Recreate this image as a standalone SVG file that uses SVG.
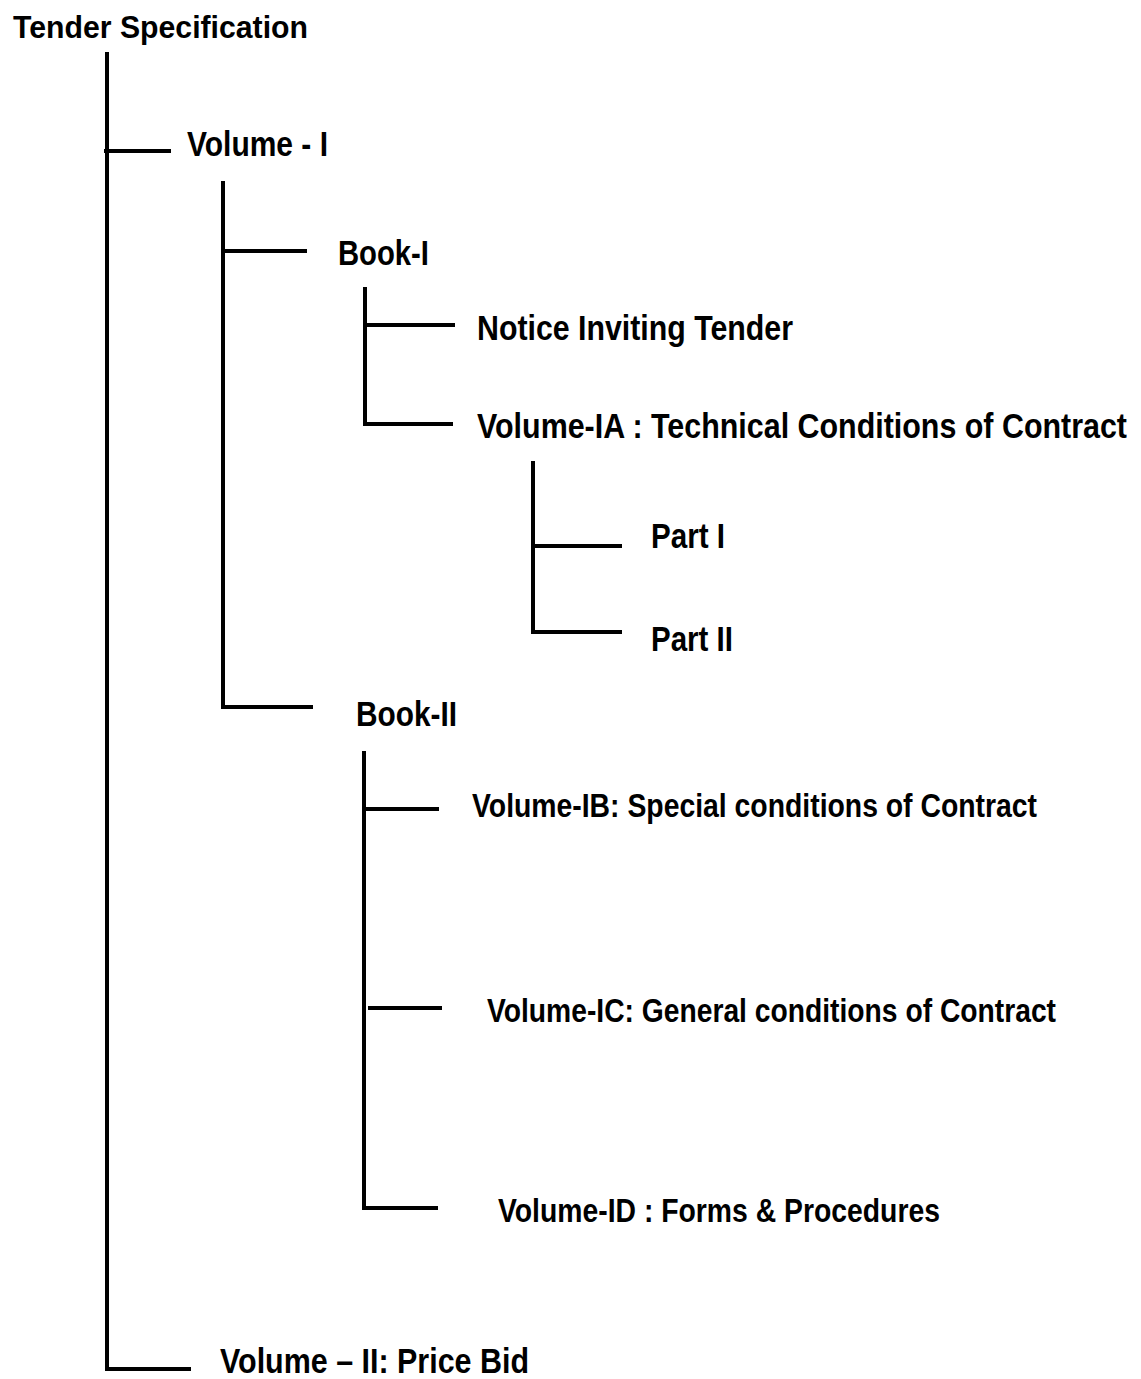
<svg xmlns="http://www.w3.org/2000/svg" width="1141" height="1379" viewBox="0 0 1141 1379">
<style>
.t{font-family:"Liberation Sans",Arial,sans-serif;font-weight:bold;fill:#000;font-size:35px}
.s{font-size:33px}
.c line{stroke:#000;stroke-width:4;stroke-linecap:butt}
</style>
<rect width="1141" height="1379" fill="#fff"/>
<g class="c" id="connectors">
<line x1="107" y1="52" x2="107" y2="1371"/>
<line x1="104" y1="151" x2="171" y2="151"/>
<line x1="105" y1="1369" x2="191" y2="1369"/>
<line x1="223" y1="181" x2="223" y2="709"/>
<line x1="223" y1="251" x2="307" y2="251"/>
<line x1="221" y1="707" x2="313" y2="707"/>
<line x1="365" y1="287" x2="365" y2="426"/>
<line x1="365" y1="325" x2="455" y2="325"/>
<line x1="363" y1="424" x2="453" y2="424"/>
<line x1="533" y1="461" x2="533" y2="634"/>
<line x1="533" y1="546" x2="622" y2="546"/>
<line x1="531" y1="632" x2="622" y2="632"/>
<line x1="364" y1="751" x2="364" y2="1210"/>
<line x1="364" y1="809" x2="439" y2="809"/>
<line x1="368" y1="1008" x2="442" y2="1008"/>
<line x1="364" y1="1208" x2="438" y2="1208"/>
</g>
<g id="n-tender"><text class="t" x="13" y="38" font-size="32" style="font-size:32px" textLength="295" lengthAdjust="spacingAndGlyphs">Tender Specification</text></g>
<g id="n-vol1"><text class="t" x="187" y="156" textLength="141" lengthAdjust="spacingAndGlyphs">Volume - I</text></g>
<g id="n-book1"><text class="t" x="338" y="265" textLength="91" lengthAdjust="spacingAndGlyphs">Book-I</text></g>
<g id="n-nit"><text class="t" x="477" y="340" textLength="316" lengthAdjust="spacingAndGlyphs">Notice Inviting Tender</text></g>
<g id="n-vol1a"><text class="t" x="477" y="438" textLength="650" lengthAdjust="spacingAndGlyphs">Volume-IA : Technical Conditions of Contract</text></g>
<g id="n-part1"><text class="t" x="651" y="548" textLength="74" lengthAdjust="spacingAndGlyphs">Part I</text></g>
<g id="n-part2"><text class="t" x="651" y="651" textLength="82" lengthAdjust="spacingAndGlyphs">Part II</text></g>
<g id="n-book2"><text class="t" x="356" y="726" textLength="101" lengthAdjust="spacingAndGlyphs">Book-II</text></g>
<g id="n-vol1b"><text class="t s" x="472" y="817" textLength="565" lengthAdjust="spacingAndGlyphs">Volume-IB: Special conditions of Contract</text></g>
<g id="n-vol1c"><text class="t s" x="487" y="1022" textLength="569" lengthAdjust="spacingAndGlyphs">Volume-IC: General conditions of Contract</text></g>
<g id="n-vol1d"><text class="t s" x="498" y="1222" textLength="442" lengthAdjust="spacingAndGlyphs">Volume-ID : Forms &amp; Procedures</text></g>
<g id="n-vol2"><text class="t" x="220" y="1373" textLength="309" lengthAdjust="spacingAndGlyphs">Volume – II: Price Bid</text></g>
</svg>
